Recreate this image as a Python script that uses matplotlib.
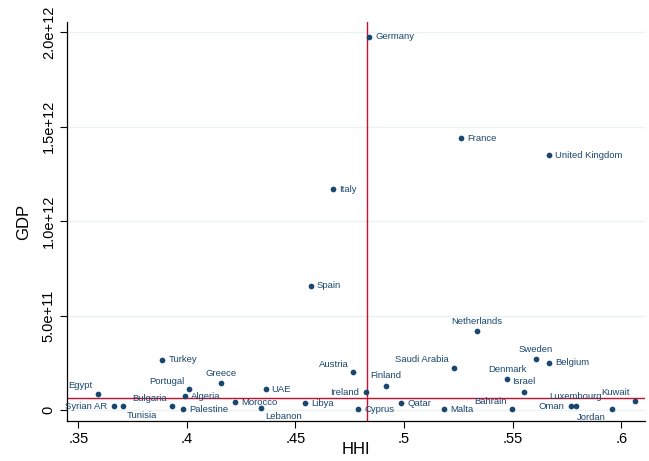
import matplotlib
matplotlib.use('Agg')
import matplotlib.pyplot as plt

# HHI vs GDP by country
countries = ['Germany', 'France', 'United Kingdom', 'Italy', 'Spain', 'Netherlands',
             'Turkey', 'Egypt', 'Syrian AR', 'Tunisia', 'Bulgaria', 'Portugal',
             'Algeria', 'Palestine', 'Greece', 'Morocco', 'UAE', 'Lebanon', 'Libya',
             'Austria', 'Cyprus', 'Ireland', 'Finland', 'Qatar', 'Saudi Arabia', 'Malta',
             'Sweden', 'Belgium', 'Denmark', 'Israel', 'Bahrain', 'Oman', 'Luxembourg',
             'Jordan', 'Kuwait']
hhi = [0.4840, 0.5262, 0.5669, 0.4674, 0.4570, 0.5334,
       0.3887, 0.3589, 0.3666, 0.3707, 0.3931, 0.4011,
       0.3993, 0.3981, 0.4156, 0.4221, 0.4363, 0.4341, 0.4544,
       0.4766, 0.4789, 0.4825, 0.4917, 0.4986, 0.5230, 0.5185,
       0.5606, 0.5667, 0.5475, 0.5552, 0.5495, 0.5768, 0.5791,
       0.5956, 0.6063]
gdp = [1.975e12, 1.438e12, 1.349e12, 1.168e12, 0.658e12, 0.418e12,
       0.265e12, 0.085e12, 0.021e12, 0.021e12, 0.021e12, 0.111e12,
       0.074e12, 0.004e12, 0.141e12, 0.041e12, 0.111e12, 0.012e12, 0.035e12,
       0.199e12, 0.005e12, 0.094e12, 0.129e12, 0.035e12, 0.224e12, 0.004e12,
       0.268e12, 0.250e12, 0.164e12, 0.097e12, 0.005e12, 0.021e12, 0.021e12,
       0.005e12, 0.049e12]
# label placement (r = right, l = left, u = above, ul = upper left, dr/dl = below)
label_pos = ['r', 'r', 'r', 'r', 'r', 'u',
             'r', 'ul', 'l', 'dr', 'ul', 'ul',
             'r', 'r', 'u', 'r', 'r', 'dr', 'r',
             'ul', 'r', 'l', 'u', 'r', 'ul', 'r',
             'u', 'r', 'u', 'u', 'ul', 'l', 'u',
             'dl', 'ul']

mean_hhi = 0.4827
mean_gdp = 0.062e12

navy = '#1a476f'
red = '#c8102e'
px = 72 / 100.0  # pixels -> points

offsets = {
    'r': (6, 0, 'left'),
    'l': (-7, 0, 'right'),
    'u': (0, 10, 'center'),
    'ul': (-5, 8, 'right'),
    'dr': (4, -9, 'left'),
    'dl': (-6, -8, 'right'),
}

plt.rcParams['font.family'] = ['Liberation Sans', 'DejaVu Sans']

fig = plt.figure(figsize=(6.49, 4.61), dpi=100)
ax = fig.add_axes([0.1032, 0.0868, 0.8906, 0.8652])

ax.scatter(hhi, gdp, s=17, color=navy, zorder=3, linewidths=0)
for name, x, y, pos in zip(countries, hhi, gdp, label_pos):
    dx, dy, ha = offsets[pos]
    ax.annotate(name, (x, y), xytext=(dx * px, dy * px), textcoords='offset points',
                ha=ha, va='center', fontsize=6.8, color=navy, zorder=4)

ax.axvline(mean_hhi, color=red, lw=1.0, zorder=2)
ax.axhline(mean_gdp, color=red, lw=1.0, zorder=2)

ax.set_xlim(0.3448, 0.6109)
ax.set_ylim(-0.0582e12, 2.053e12)

xt = [0.35, 0.4, 0.45, 0.5, 0.55, 0.6]
ax.set_xticks(xt)
ax.set_xticklabels(['.35', '.4', '.45', '.5', '.55', '.6'], fontsize=10.5)
yt = [0, 0.5e12, 1.0e12, 1.5e12, 2.0e12]
ax.set_yticks(yt)
ax.set_yticklabels(['0', '5.0e+11', '1.0e+12', '1.5e+12', '2.0e+12'],
                   fontsize=10.5, rotation=90, va='center')
ax.tick_params(length=5, width=0.8, color='black', pad=3)

ax.grid(axis='y', color='#eaf2f3', lw=1.0, zorder=0)
ax.set_axisbelow(True)
for s in ['top', 'right']:
    ax.spines[s].set_visible(False)
for s in ['left', 'bottom']:
    ax.spines[s].set_linewidth(0.9)

ax.set_xlabel('HHI', fontsize=12, labelpad=-3)
ax.set_ylabel('GDP', fontsize=12, labelpad=8)

fig.savefig('out.png', dpi=100)
